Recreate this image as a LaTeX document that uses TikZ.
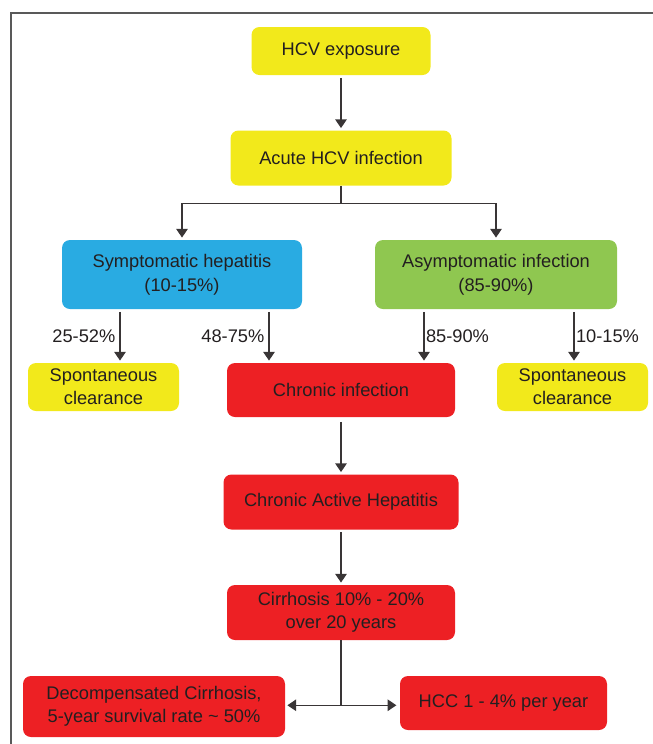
\documentclass[tikz,border=0pt]{standalone}
\usepackage{fontspec}
\setmainfont{Liberation Sans}
\usepackage{tikz}
\usetikzlibrary{arrows.meta}
\usetikzlibrary{calc}
\definecolor{hcvyellow}{RGB}{242,233,27}
\definecolor{hcvblue}{RGB}{41,171,226}
\definecolor{hcvgreen}{RGB}{143,199,80}
\definecolor{hcvred}{RGB}{237,32,36}
\definecolor{ink}{RGB}{35,31,32}
\tikzset{box/.style = {rounded corners=6pt, inner sep=0pt, align=center,
                       text=ink, font=\fontsize{13.7}{17}\selectfont}}
\tikzset{wh/.style 2 args = {minimum width=#1*0.75pt, minimum height=#2*0.75pt}}
\tikzset{link/.style = {draw=ink!90, line width=1pt}}
\tikzset{flow/.style = {link, -{Triangle[length=6.5pt, width=8.5pt]},
                        shorten <=2pt, shorten >=1.6pt}}
\tikzset{pct/.style = {font=\fontsize{13.7}{17}\selectfont, text=ink, inner sep=3pt}}

\begin{document}
\begin{tikzpicture}[x=0.75pt, y=-0.75pt]
      \useasboundingbox (0, 0) rectangle (653, 744);
      \draw [line width=1.1pt, draw=black!65] (11, 744) -- (11, 13) -- (653, 13);

      \node [box, wh={179}{48}, fill=hcvyellow] (expo) at (341, 51) {HCV exposure};
      \node [box, wh={221}{55}, fill=hcvyellow] (acute) at (341, 158) {Acute HCV infection};
      \node [box, wh={240}{69}, fill=hcvblue, font=\fontsize{13.7}{18}\selectfont] (sympt) at (182, 274.5)
            {Symptomatic hepatitis\\(10-15\%)};
      \node [box, wh={242}{69}, fill=hcvgreen, font=\fontsize{13.7}{18}\selectfont] (asympt) at (496, 274.5)
            {Asymptomatic infection\\(85-90\%)};
      \node [box, wh={151}{48}, fill=hcvyellow] (clearL) at (103.5, 387) {Spontaneous\\clearance};
      \node [box, wh={228}{54}, fill=hcvred] (chronic) at (341, 390) {Chronic infection};
      \node [box, wh={151}{48}, fill=hcvyellow] (clearR) at (572.5, 387) {Spontaneous\\clearance};
      \node [box, wh={235}{55}, fill=hcvred] (cah) at (341, 502) {Chronic Active Hepatitis};
      \node [box, wh={228}{55}, fill=hcvred] (cirr) at (341, 612.5) {Cirrhosis 10\% - 20\%\\over 20 years};
      \node [box, wh={262}{61}, fill=hcvred] (decomp) at (154, 706.5)
            {Decompensated Cirrhosis,\\5-year survival rate \textasciitilde\ 50\%};
      \node [box, wh={207}{54}, fill=hcvred] (hcc) at (503.5, 703) {HCC 1 - 4\% per year};

      \draw [flow] (expo) -- (acute);

      \draw [link] (acute.south) -- ++(0, 17.5) coordinate (fork);
      \draw [flow, shorten <=0pt] (fork) -| (sympt.north);
      \draw [flow, shorten <=0pt] (fork) -| (asympt.north);

      \draw [flow] ($(sympt.south)+(-62, 0)$) coordinate (s1) -- (s1 |- clearL.north)
            node [midway, left, pct] {25-52\%};
      \draw [flow] ($(sympt.south)+(87, 0)$) coordinate (s2) -- (s2 |- chronic.north)
            node [midway, left, pct] {48-75\%};
      \draw [flow] ($(asympt.south)+(-72, 0)$) coordinate (a1) -- (a1 |- chronic.north)
            node [midway, right, pct, inner sep=1pt] {85-90\%};
      \draw [flow] ($(asympt.south)+(78, 0)$) coordinate (a2) -- (a2 |- clearR.north)
            node [midway, right, pct, inner sep=1pt] {10-15\%};

      \draw [flow, shorten <=3.5pt] (chronic) -- (cah);
      \draw [flow] (cah) -- (cirr);

      \draw [link] (cirr.south) -- ($(cirr.south)+(0, 65)$) coordinate (split);
      \draw [flow, shorten <=0pt] (split) -- (split -| decomp.east);
      \draw [flow, shorten <=0pt, shorten >=2.5pt] (split) -- (split -| hcc.west);
    \end{tikzpicture}
\end{document}
